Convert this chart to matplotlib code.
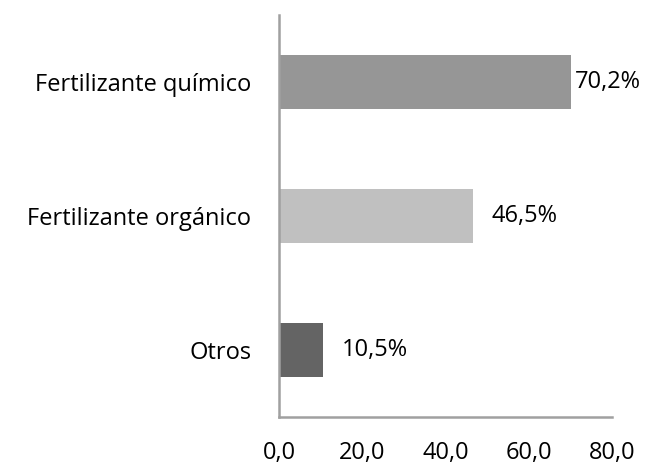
import numpy as np
import matplotlib.pyplot as plt

# data (bottom to top)
categorias = ['Otros', 'Fertilizante orgánico', 'Fertilizante químico']
valores = [10.5, 46.5, 70.2]
etiquetas = ['10,5%', '46,5%', '70,2%']
colores = ['#646464', '#c0c0c0', '#969696']
xticks = [0, 20, 40, 60, 80]

plt.rcParams['font.family'] = ['Open Sans', 'DejaVu Sans']

fig = plt.figure(figsize=(6.51, 4.65), dpi=100)
ax = fig.add_axes([279/651, 1-417/465, 333/651, 402/465])

y = np.arange(len(categorias))
ax.barh(y, valores, height=0.4, color=colores)

# label offsets, the top one sits right against the bar
desp = [4.5, 4.5, 1.0]
for i in range(len(valores)):
    ax.text(valores[i] + desp[i], y[i], etiquetas[i], va='center', ha='left',
            fontsize=17, color='black')

ax.set_xlim(0, 80)
ax.set_ylim(-0.5, 2.5)
ax.set_yticks(y)
ax.set_yticklabels(categorias, fontsize=17)
ax.set_xticks(xticks)
ax.set_xticklabels([('%.1f' % t).replace('.', ',') for t in xticks], fontsize=17)
ax.tick_params(axis='both', length=0)
ax.tick_params(axis='x', pad=17)
ax.tick_params(axis='y', pad=20)

for s in ['top', 'right']:
    ax.spines[s].set_visible(False)
for s in ['left', 'bottom']:
    ax.spines[s].set_color('#a0a0a0')
    ax.spines[s].set_linewidth(1.8)

fig.savefig('out.png', dpi=100)
